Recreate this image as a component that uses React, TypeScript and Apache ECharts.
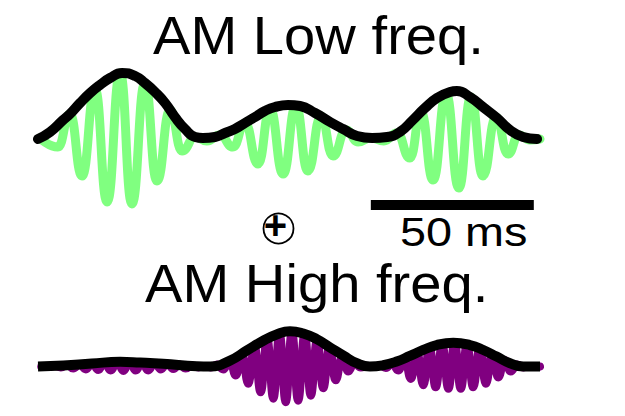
import React, { useEffect, useRef } from "react";
import * as echarts from "echarts";

// ---- Data (time in ms, amplitude in arbitrary units) ----
const lowEnvTime = [0, 3.7, 7.7, 9.8, 12.9, 16.0, 19.0, 22.1, 25.8, 29.8, 32.8, 35.9, 39.0, 42.0, 45.1, 48.2, 50.6, 54.3, 57.4, 60.4, 63.5, 66.6, 69.6, 72.7, 76.7, 80.4, 85.0, 89.6, 93.6, 97.9, 102.5, 107.1, 111.0, 115.0, 118.7, 122.4, 126.4, 128.5, 132.5, 136.5, 140.8, 144.8, 148.8, 153.1];
const lowEnvValue = [0, 7, 19, 25, 36, 46, 54, 61, 66, 63, 56, 47, 36, 22, 10, 2, 1, 2, 6, 10, 16, 22, 28, 32, 34, 33, 26, 17, 10, 3, 1, 2, 7, 19, 31, 41, 47, 48, 42, 32, 21, 9, 2, 0];

const lowCarrierTime = [0.6, 6.1, 9.8, 13.5, 17.5, 21.2, 25.2, 28.8, 32.8, 36.5, 40.5, 44.2, 48.2, 51.8, 55.8, 59.8, 63.5, 67.5, 71.2, 75.2, 79.1, 82.8, 86.8, 90.5, 94.5, 98.2, 102.1, 106.1, 110.1, 114.1, 117.5, 121.2, 125.2, 129.1, 132.8, 136.5, 140.5, 144.2, 147.5, 150.9, 154.0];
const lowCarrierValue = [1, -8, 25, -37, 50, -63, 66, -65, 56, -42, 29, -12, 2, -2, 4, -8, 16, -25, 30, -35, 33, -32, 23, -17, 9, -3, 1, -2, 6, -19, 27, -41, 45, -49, 42, -37, 22, -15, 4, -1, 0];

const highEnvTime = [0, 7.8, 16.5, 25.2, 31.3, 38.4, 48.7, 52.8, 58.9, 64.0, 69.1, 73.2, 77.3, 81.4, 85.5, 89.6, 93.7, 97.8, 101.8, 105.9, 110.0, 114.1, 118.2, 122.3, 127.4, 132.5, 136.6, 140.7, 144.8, 148.9, 154.0];
const highEnvValue = [0, 1, 3, 4.7, 4, 2.8, 0.3, 0, 6, 16, 26, 32.3, 35.7, 33.3, 27.7, 19.3, 11, 3.3, 0, 1.3, 5, 10.7, 16.7, 21.7, 24, 21.7, 16.7, 10, 3.3, 0, 0];

const highCarrier: [number, number][] = [
  [1.0, 0], [3.2, -0.5], [5.1, 0.5], [7.0, -1], [8.9, 1.5], [10.8, -2], [12.8, 2], [14.7, -3], [16.6, 3],
  [18.5, -3.5], [20.4, 4], [22.3, -4], [24.3, 4.5], [26.2, -4.5], [28.1, 4.5], [30.0, -4], [31.9, 4],
  [33.8, -4], [35.8, 3.5], [37.7, -3], [39.6, 3], [41.5, -2.5], [43.4, 2], [45.3, -2], [47.3, 1],
  [49.2, -1], [51.1, 0.5], [53.0, -1], [54.9, 2], [56.8, -3], [58.8, 6], [60.7, -9], [62.6, 12.5],
  [64.5, -17.5], [66.4, 21], [68.3, -26], [70.3, 28.5], [72.2, -32.5], [74.1, 33.5], [76.0, -36],
  [77.9, 35.5], [79.8, -34.5], [81.8, 33], [83.7, -29.5], [85.6, 27], [87.5, -22], [89.4, 20],
  [91.3, -14], [93.3, 10], [95.2, -5], [97.1, 4], [99.0, -1], [101.0, 0.5], [102.9, -0.5], [104.8, 1],
  [106.7, -1.5], [108.6, 3.5], [110.5, -4], [112.5, 7.5], [114.4, -12.5], [116.3, 14], [118.2, -19],
  [120.1, 19.5], [122.0, -21], [124.0, 22.5], [125.9, -22.5], [127.8, 24], [129.7, -22.5], [131.6, 22.5],
  [133.5, -21], [135.5, 19], [137.4, -17.5], [139.3, 13], [141.2, -11], [143.1, 6.5], [145.0, -5],
  [147.0, 2], [148.9, -1], [150.8, 0.5], [152.7, -0.5], [154.0, 0],
];

const scaleBarStart = 102.1;
const scaleBarLength = 50;
const scaleBarLevel = -66;

const titles = ["AM Low freq.", "AM High freq."];
const scaleBarLabel = "50 ms";

const zip = (t: number[], v: number[]) => t.map((x, i) => [x, v[i]]);

export default function App() {
  const ref = useRef<HTMLDivElement>(null);
  useEffect(() => {
    if (!ref.current) return;
    const chart = echarts.init(ref.current, undefined, { renderer: "svg" });
    const font = '"Liberation Sans", Arial, Helvetica, sans-serif';
    chart.setOption({
      animation: false,
      backgroundColor: "#ffffff",
      grid: [
        { left: 38, top: 59, width: 502, height: 160 },
        { left: 38, top: 317, width: 502, height: 100 },
      ],
      xAxis: [
        { type: "value", gridIndex: 0, min: 0, max: 154, show: false },
        { type: "value", gridIndex: 1, min: 0, max: 154, show: false },
      ],
      yAxis: [
        { type: "value", gridIndex: 0, min: -80, max: 80, show: false },
        { type: "value", gridIndex: 1, min: -50, max: 50, show: false },
      ],
      series: [
        {
          type: "line", xAxisIndex: 0, yAxisIndex: 0, silent: true, clip: false,
          data: zip(lowCarrierTime, lowCarrierValue),
          smooth: 0.5, smoothMonotone: "x", symbol: "none",
          lineStyle: { color: "#80ff80", width: 9, cap: "round", join: "round" },
          z: 2,
        },
        {
          type: "line", xAxisIndex: 0, yAxisIndex: 0, silent: true, clip: false,
          data: zip(lowEnvTime, lowEnvValue),
          smooth: 0.5, symbol: "none",
          lineStyle: { color: "#000000", width: 10, cap: "round", join: "round" },
          z: 3,
        },
        {
          type: "line", xAxisIndex: 0, yAxisIndex: 0, silent: true, clip: false,
          data: [[scaleBarStart, scaleBarLevel], [scaleBarStart + scaleBarLength, scaleBarLevel]],
          symbol: "none",
          lineStyle: { color: "#000000", width: 10, cap: "butt" },
          z: 3,
        },
        {
          type: "line", xAxisIndex: 1, yAxisIndex: 1, silent: true, clip: false,
          data: highCarrier,
          smooth: 0.5, smoothMonotone: "x", symbol: "none",
          lineStyle: { color: "#800080", width: 8, cap: "round", join: "round" },
          z: 2,
        },
        {
          type: "line", xAxisIndex: 1, yAxisIndex: 1, silent: true, clip: false,
          data: zip(highEnvTime, highEnvValue),
          smooth: 0.5, symbol: "none",
          lineStyle: { color: "#000000", width: 10, cap: "butt", join: "round" },
          z: 3,
        },
      ],
      graphic: [
        {
          type: "text", x: 153, y: 36, scaleX: 1.06, silent: true,
          style: { text: titles[0], font: `53px ${font}`, fill: "#000", textAlign: "left", textVerticalAlign: "middle", verticalAlign: "middle" },
        },
        {
          type: "text", x: 145, y: 284, scaleX: 1.06, silent: true,
          style: { text: titles[1], font: `53px ${font}`, fill: "#000", textAlign: "left", textVerticalAlign: "middle", verticalAlign: "middle" },
        },
        {
          type: "text", x: 400, y: 232.5, scaleX: 1.17, silent: true,
          style: { text: scaleBarLabel, font: `40px ${font}`, fill: "#000", textAlign: "left", textVerticalAlign: "middle", verticalAlign: "middle" },
        },
        {
          type: "circle", silent: true,
          shape: { cx: 278.5, cy: 228.5, r: 15 },
          style: { fill: "none", stroke: "#000", lineWidth: 1.8 },
        },
        {
          type: "text", x: 275.5, y: 225, silent: true,
          style: { text: "+", font: `bold 40px ${font}`, fill: "#000", textAlign: "center", textVerticalAlign: "middle", verticalAlign: "middle" },
        },
      ],
    });
    return () => chart.dispose();
  }, []);
  return <div ref={ref} style={{ position: "fixed", left: 0, top: 0, width: 625, height: 416 }} />;
}
